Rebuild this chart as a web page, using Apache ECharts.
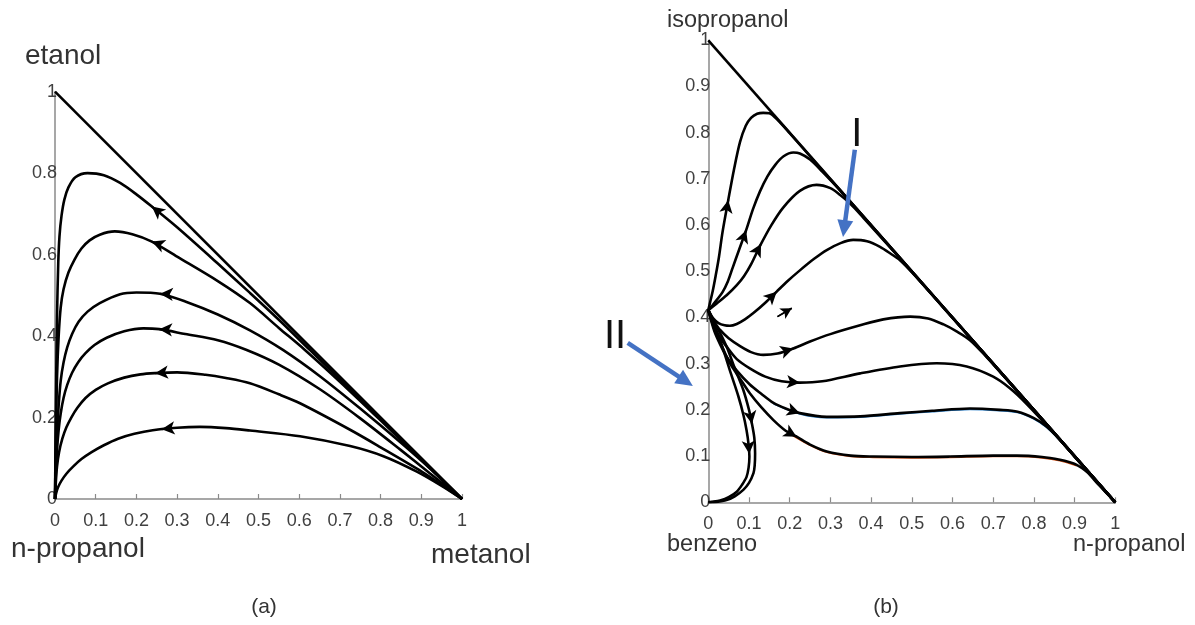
<!DOCTYPE html>
<html>
<head>
<meta charset="utf-8">
<script src="https://cdn.jsdelivr.net/npm/echarts@6/dist/echarts.min.js"></script>
<style>
html,body{margin:0;padding:0;background:#fff;}
#c{width:1195px;height:625px;}
</style>
</head>
<body>
<div id="c"></div>
<script>
// ---------- axis ticks ----------
const ticksX = [0, 0.1, 0.2, 0.3, 0.4, 0.5, 0.6, 0.7, 0.8, 0.9, 1];
const ticksYLeft = [0, 0.2, 0.4, 0.6, 0.8, 1];
const ticksYRight = [0, 0.1, 0.2, 0.3, 0.4, 0.5, 0.6, 0.7, 0.8, 0.9, 1];

// ---------- (a) metanol / etanol / n-propanol residue curves [x, y] ----------
const edgeA = [[0, 1], [1, 0]];
const curveA1 = [[0,0],[0.001,0.1],[0.003,0.3],[0.005,0.45],[0.008,0.58],[0.011,0.645],[0.016,0.695],[0.023,0.735],[0.033,0.765],[0.05,0.79],[0.08,0.80],[0.12,0.795],[0.16,0.776],[0.2,0.748],[0.238,0.718],[0.3,0.667],[0.4,0.578],[0.479,0.506],[0.55,0.44],[0.626,0.366],[0.7,0.294],[0.8,0.197],[0.9,0.099],[1,0]];
const curveA2 = [[0,0],[0.002,0.15],[0.005,0.3],[0.009,0.4],[0.014,0.47],[0.021,0.515],[0.033,0.556],[0.048,0.588],[0.065,0.615],[0.085,0.635],[0.11,0.649],[0.147,0.657],[0.19,0.65],[0.238,0.632],[0.3,0.595],[0.4,0.535],[0.479,0.481],[0.55,0.42],[0.614,0.366],[0.7,0.288],[0.8,0.193],[0.9,0.096],[1,0]];
const curveA3 = [[0,0],[0.002,0.08],[0.005,0.16],[0.009,0.23],[0.014,0.29],[0.021,0.335],[0.03,0.372],[0.042,0.405],[0.058,0.435],[0.08,0.46],[0.11,0.481],[0.16,0.503],[0.2,0.507],[0.258,0.504],[0.32,0.485],[0.4,0.453],[0.479,0.414],[0.56,0.366],[0.65,0.302],[0.75,0.222],[0.85,0.138],[0.92,0.076],[1,0]];
const curveA4 = [[0,0],[0.002,0.06],[0.005,0.12],[0.009,0.17],[0.014,0.21],[0.021,0.248],[0.03,0.28],[0.042,0.31],[0.057,0.336],[0.075,0.358],[0.097,0.378],[0.127,0.396],[0.17,0.412],[0.217,0.419],[0.256,0.417],[0.32,0.405],[0.4,0.39],[0.471,0.366],[0.55,0.33],[0.65,0.27],[0.75,0.198],[0.85,0.12],[0.92,0.064],[1,0]];
const curveA5 = [[0,0],[0.002,0.04],[0.005,0.08],[0.01,0.115],[0.018,0.148],[0.028,0.176],[0.04,0.2],[0.055,0.224],[0.075,0.248],[0.1,0.268],[0.13,0.284],[0.17,0.298],[0.21,0.306],[0.246,0.309],[0.3,0.311],[0.37,0.305],[0.42,0.297],[0.479,0.284],[0.55,0.257],[0.602,0.235],[0.725,0.17],[0.8,0.127],[0.9,0.068],[0.96,0.028],[1,0]];
const curveA6 = [[0,0],[0.003,0.015],[0.008,0.03],[0.016,0.045],[0.028,0.062],[0.045,0.08],[0.065,0.098],[0.09,0.115],[0.12,0.132],[0.155,0.148],[0.195,0.16],[0.24,0.169],[0.3,0.175],[0.356,0.177],[0.42,0.174],[0.479,0.168],[0.602,0.154],[0.725,0.13],[0.807,0.105],[0.889,0.067],[0.95,0.032],[1,0]];
// arrow locations on each curve of (a)
const arrowsA = [[0.238,0.718],[0.238,0.632],[0.258,0.504],[0.256,0.417],[0.246,0.309],[0.262,0.172]];

// ---------- (b) benzeno / isopropanol / n-propanol residue curves [x, y] ----------
const edgeB = [[0, 1], [1, 0]];
const curveU1 = [[0,0.416],[0.005,0.435],[0.011,0.458],[0.018,0.49],[0.026,0.53],[0.035,0.585],[0.049,0.654],[0.063,0.72],[0.078,0.78],[0.092,0.815],[0.105,0.832],[0.12,0.841],[0.135,0.843],[0.15,0.842],[0.17,0.828],[0.2,0.799],[0.3,0.699],[0.5,0.5],[0.7,0.3],[0.9,0.1],[1,0]];
const curveU2 = [[0,0.416],[0.01,0.426],[0.02,0.437],[0.035,0.455],[0.048,0.478],[0.06,0.508],[0.075,0.545],[0.093,0.589],[0.11,0.635],[0.127,0.673],[0.145,0.705],[0.165,0.731],[0.185,0.749],[0.209,0.757],[0.225,0.755],[0.25,0.742],[0.28,0.716],[0.32,0.679],[0.4,0.6],[0.6,0.4],[0.8,0.2],[1,0]];
const curveU3 = [[0,0.416],[0.02,0.43],[0.045,0.448],[0.07,0.47],[0.088,0.49],[0.105,0.515],[0.127,0.555],[0.155,0.6],[0.184,0.638],[0.225,0.674],[0.266,0.687],[0.3,0.68],[0.324,0.665],[0.348,0.647],[0.38,0.617],[0.42,0.578],[0.5,0.499],[0.7,0.3],[1,0]];
const curveU4 = [[0,0.416],[0.012,0.398],[0.025,0.388],[0.04,0.383],[0.053,0.382],[0.07,0.386],[0.09,0.396],[0.11,0.409],[0.14,0.432],[0.168,0.456],[0.195,0.479],[0.225,0.502],[0.26,0.527],[0.291,0.546],[0.325,0.561],[0.356,0.568],[0.39,0.565],[0.422,0.553],[0.45,0.537],[0.471,0.524],[0.5,0.498],[0.6,0.399],[0.8,0.2],[1,0]];
const curveL1 = [[0,0.416],[0.008,0.4],[0.015,0.39],[0.029,0.373],[0.05,0.355],[0.078,0.338],[0.105,0.325],[0.135,0.319],[0.17,0.322],[0.209,0.333],[0.25,0.348],[0.3,0.364],[0.373,0.383],[0.43,0.396],[0.496,0.402],[0.54,0.398],[0.578,0.385],[0.61,0.37],[0.643,0.351],[0.68,0.318],[0.75,0.249],[0.85,0.149],[1,0]];
const curveL2 = [[0,0.416],[0.015,0.38],[0.03,0.355],[0.045,0.337],[0.07,0.31],[0.102,0.29],[0.14,0.272],[0.18,0.262],[0.225,0.259],[0.28,0.262],[0.373,0.279],[0.471,0.294],[0.561,0.301],[0.635,0.294],[0.7,0.272],[0.741,0.247],[0.78,0.215],[0.85,0.149],[0.92,0.079],[1,0]];
const curveL3 = [[0,0.416],[0.015,0.37],[0.03,0.34],[0.045,0.315],[0.07,0.285],[0.102,0.255],[0.13,0.235],[0.16,0.215],[0.19,0.203],[0.225,0.193],[0.291,0.185],[0.373,0.186],[0.471,0.193],[0.55,0.198],[0.643,0.203],[0.717,0.2],[0.76,0.196],[0.8,0.182],[0.831,0.164],[0.86,0.139],[0.9,0.099],[1,0]];
const curveL4 = [[0,0.416],[0.015,0.375],[0.03,0.345],[0.053,0.301],[0.08,0.265],[0.102,0.236],[0.13,0.206],[0.16,0.178],[0.19,0.155],[0.217,0.142],[0.25,0.125],[0.291,0.11],[0.35,0.101],[0.405,0.099],[0.5,0.098],[0.594,0.099],[0.7,0.101],[0.758,0.101],[0.82,0.098],[0.864,0.092],[0.89,0.086],[0.905,0.081],[0.93,0.066],[0.96,0.037],[1,0]];
const curveV1 = [[0,0.416],[0.015,0.39],[0.03,0.365],[0.045,0.337],[0.065,0.29],[0.086,0.243],[0.1,0.2],[0.107,0.171],[0.113,0.14],[0.115,0.106],[0.114,0.08],[0.111,0.063],[0.1,0.042],[0.086,0.027],[0.065,0.013],[0.045,0.005],[0.02,0.001],[0,0]];
const curveV2 = [[0,0.416],[0.012,0.39],[0.025,0.36],[0.037,0.33],[0.055,0.28],[0.074,0.229],[0.086,0.19],[0.094,0.156],[0.099,0.125],[0.101,0.099],[0.099,0.075],[0.094,0.055],[0.083,0.038],[0.07,0.023],[0.05,0.011],[0.029,0.004],[0.01,0.001],[0,0]];
// faint coloured traces running under two of the curves
const traceBlue = [[0.16,0.213],[0.225,0.191],[0.291,0.183],[0.373,0.184],[0.471,0.191],[0.55,0.196],[0.643,0.201],[0.717,0.198],[0.76,0.194],[0.8,0.18],[0.831,0.162],[0.86,0.137]];
const traceOrange = [[0.2,0.148],[0.25,0.123],[0.291,0.108],[0.35,0.099],[0.405,0.097],[0.5,0.096],[0.594,0.097],[0.7,0.099],[0.758,0.099],[0.82,0.096],[0.864,0.09],[0.905,0.079]];
// arrow locations on each curve of (b)
const arrowsB = [[0.049,0.654],[0.093,0.589],[0.127,0.561],[0.168,0.456],[0.209,0.333],[0.225,0.26],[0.225,0.193],[0.217,0.142],[0.107,0.17],[0.1,0.105]];
const strayArrow = [[0.17,0.402],[0.205,0.42]];

// ---------- helpers ----------
const FONT = '"Liberation Sans", Arial, Helvetica, sans-serif';
const AXIS_GRAY = '#8a8a8a';
const LABEL_GRAY = '#404040';

// place an arrowhead on the polyline segment nearest to `at`, pointing along the curve (dir = +1 / -1)
function arrowMark(curve, at, dir) {
  let best = 0, bestD = Infinity, bestT = 0;
  for (let i = 0; i < curve.length - 1; i++) {
    const [x1, y1] = curve[i], [x2, y2] = curve[i + 1];
    const dx = x2 - x1, dy = y2 - y1, L2 = dx * dx + dy * dy;
    if (!L2) continue;
    let t = ((at[0] - x1) * dx + (at[1] - y1) * dy) / L2;
    t = Math.max(0, Math.min(1, t));
    const px = x1 + t * dx, py = y1 + t * dy;
    const d = (px - at[0]) ** 2 + (py - at[1]) ** 2;
    if (d < bestD) { bestD = d; best = i; bestT = t; }
  }
  const [x1, y1] = curve[best], [x2, y2] = curve[best + 1];
  const tip = [x1 + bestT * (x2 - x1), y1 + bestT * (y2 - y1)];
  const len = Math.hypot(x2 - x1, y2 - y1);
  const ux = (x2 - x1) / len * dir, uy = (y2 - y1) / len * dir;
  return [{ coord: [tip[0] - ux * 0.012, tip[1] - uy * 0.012] }, { coord: tip }];
}

function curveSeries(data, grid, arrows, opts) {
  opts = opts || {};
  const s = {
    type: 'line', xAxisIndex: grid, yAxisIndex: grid, data: data,
    symbol: 'none', showSymbol: false, silent: true, animation: false,
    smooth: opts.smooth === undefined ? 0.3 : opts.smooth,
    lineStyle: { color: opts.color || '#000', width: opts.width || 2.6 },
    z: opts.z || 3
  };
  if (arrows && arrows.length) {
    s.markLine = {
      silent: true, animation: false, symbol: ['none', 'arrow'], symbolSize: [10, 13],
      label: { show: false }, emphasis: { disabled: true },
      lineStyle: { color: '#000', width: 2, type: 'solid' },
      data: arrows
    };
  }
  return s;
}

function xAxisCfg(grid) {
  return {
    type: 'value', gridIndex: grid, min: 0, max: 1, interval: 0.1,
    axisLine: { show: true, onZero: false, lineStyle: { color: AXIS_GRAY, width: 1.5 } },
    axisTick: { show: true, inside: true, length: 5, lineStyle: { color: AXIS_GRAY, width: 1.2 } },
    splitLine: { show: false },
    axisLabel: { show: true, fontSize: 18, color: LABEL_GRAY, fontFamily: FONT, margin: 13,
      showMinLabel: true, showMaxLabel: true, formatter: v => String(+v.toFixed(1)) }
  };
}
function yAxisCfg(grid, step) {
  return {
    type: 'value', gridIndex: grid, min: 0, max: 1, interval: step,
    axisLine: { show: true, onZero: false, lineStyle: { color: AXIS_GRAY, width: 1.5 } },
    axisTick: { show: false },
    splitLine: { show: false },
    axisLabel: { show: true, fontSize: 18, color: LABEL_GRAY, fontFamily: FONT, margin: -2,
      showMinLabel: true, showMaxLabel: true, formatter: v => String(+v.toFixed(1)) }
  };
}

const curvesA = [curveA1, curveA2, curveA3, curveA4, curveA5, curveA6];
const curvesB = [curveU1, curveU2, curveU3, curveU4, curveL1, curveL2, curveL3, curveL4, curveV1, curveV2];

const series = [];
series.push(curveSeries(edgeA, 0, null, { smooth: false, width: 2.6 }));
curvesA.forEach((c, i) => series.push(curveSeries(c, 0, [arrowMark(c, arrowsA[i], -1)])));
series.push(curveSeries(edgeB, 1, null, { smooth: false, width: 2.6 }));
series.push(curveSeries(traceBlue, 1, null, { color: '#2a7fc9', width: 1.4, z: 2 }));
series.push(curveSeries(traceOrange, 1, null, { color: '#d9541a', width: 1.4, z: 2 }));
curvesB.forEach((c, i) => series.push(curveSeries(c, 1, [arrowMark(c, arrowsB[i], 1)])));
series.push({
  type: 'line', xAxisIndex: 1, yAxisIndex: 1, data: strayArrow, symbol: 'none', silent: true,
  animation: false, lineStyle: { color: '#000', width: 1.5 },
  markLine: { silent: true, animation: false, symbol: ['none', 'arrow'], symbolSize: [9, 11],
    label: { show: false }, lineStyle: { color: '#000', width: 1.5, type: 'solid' },
    data: [[{ coord: strayArrow[0] }, { coord: strayArrow[1] }]] }
});

function txt(text, x, y, size, align) {
  return { type: 'text', x: x, y: y, silent: true, z: 10,
    style: { text: text, font: size + 'px ' + FONT, fill: '#333',
      textAlign: align || 'left', textVerticalAlign: 'middle', align: align || 'left', verticalAlign: 'middle' } };
}

const chart = echarts.init(document.getElementById('c'), null, { renderer: 'canvas' });
chart.setOption({
  animation: false,
  backgroundColor: '#fff',
  grid: [
    { left: 55, top: 91.7, width: 407, height: 407.3, containLabel: false },
    { left: 708.3, top: 40.3, width: 407, height: 462, containLabel: false }
  ],
  xAxis: [xAxisCfg(0), xAxisCfg(1)],
  yAxis: [yAxisCfg(0, 0.2), yAxisCfg(1, 0.1)],
  series: series,
  graphic: [
    txt('etanol', 25, 56, 28),
    txt('n-propanol', 11, 549, 28),
    txt('metanol', 431, 555, 28),
    txt('isopropanol', 667, 20.5, 23.5),
    txt('benzeno', 667, 545, 23.5),
    txt('n-propanol', 1073, 545, 23.5),
    txt('(a)', 264, 607, 21, 'center'),
    txt('(b)', 886, 607, 21, 'center')
  ]
});

// annotation arrows "I" and "II" placed in the coordinates of panel (b)
const BLUE = '#4472c4';
function blueArrow(from, to) {
  const a = chart.convertToPixel({ gridIndex: 1 }, from);
  const b = chart.convertToPixel({ gridIndex: 1 }, to);
  const dx = b[0] - a[0], dy = b[1] - a[1], L = Math.hypot(dx, dy);
  const ux = dx / L, uy = dy / L, head = 17, half = 8;
  const base = [b[0] - ux * head, b[1] - uy * head];
  return [
    { type: 'line', silent: true, z: 11, shape: { x1: a[0], y1: a[1], x2: base[0] + ux * 2, y2: base[1] + uy * 2 },
      style: { stroke: BLUE, lineWidth: 4.5 } },
    { type: 'polygon', silent: true, z: 11,
      shape: { points: [b, [base[0] - uy * half, base[1] + ux * half], [base[0] + uy * half, base[1] - ux * half]] },
      style: { fill: BLUE } }
  ];
}
function romanLabel(text, at) {
  const p = chart.convertToPixel({ gridIndex: 1 }, at);
  return { type: 'text', x: p[0], y: p[1], silent: true, z: 11,
    style: { text: text, font: '40px ' + FONT, fill: '#111', textAlign: 'center', textVerticalAlign: 'middle', align: 'center', verticalAlign: 'middle' } };
}
const extra = []
  .concat(blueArrow([0.36, 0.763], [0.331, 0.574]))
  .concat(blueArrow([-0.198, 0.345], [-0.038, 0.252]))
  .concat([romanLabel('I', [0.365, 0.795]), romanLabel('II', [-0.229, 0.358])]);
const g = chart.getOption().graphic[0].elements.slice();
chart.setOption({ graphic: g.concat(extra) });
</script>
</body>
</html>
